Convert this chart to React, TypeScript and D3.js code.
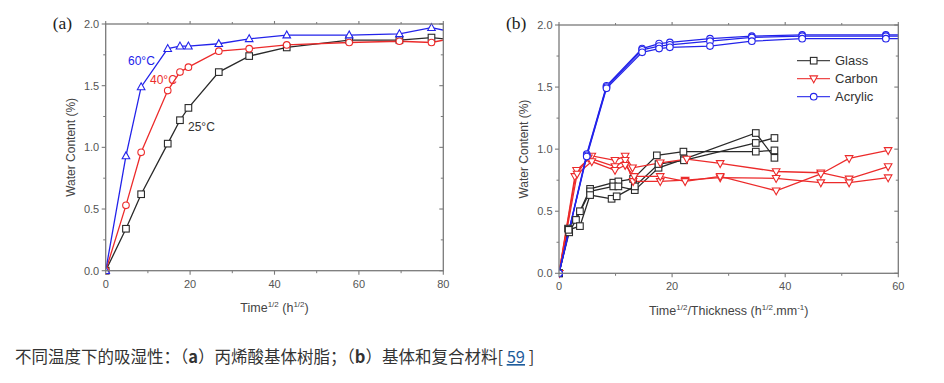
import React from "react";
import * as d3 from "d3";

// ---------- Panel (a) data ----------
const timeA = [0, 4.8, 8.4, 14.7, 17.6, 19.6, 26.8, 34.0, 42.9, 57.7, 69.6, 77.2, 83];
const temp60 = [0, 0.93, 1.49, 1.8, 1.82, 1.82, 1.84, 1.88, 1.91, 1.91, 1.92, 1.97, 1.93];
const temp40 = [0, 0.53, 0.96, 1.46, 1.61, 1.65, 1.78, 1.8, 1.83, 1.85, 1.86, 1.85, 1.89];
const temp25 = [0, 0.34, 0.62, 1.03, 1.22, 1.32, 1.61, 1.74, 1.81, 1.87, 1.87, 1.89, 1.87];
const seriesLabelsA = ["60°C", "40°C", "25°C"];

// ---------- Panel (b) data ----------
const acrylicX = [0, 4.9, 8.4, 14.7, 17.7, 19.6, 26.7, 34.1, 43.0, 57.8, 62];
const acrylic1 = [0, 0.96, 1.51, 1.81, 1.85, 1.86, 1.89, 1.91, 1.92, 1.92, 1.92];
const acrylic2 = [0, 0.95, 1.5, 1.8, 1.83, 1.84, 1.87, 1.9, 1.91, 1.91, 1.91];
const acrylic3 = [0, 0.94, 1.49, 1.78, 1.81, 1.82, 1.83, 1.87, 1.89, 1.89, 1.89];

const glassX1 = [0, 1.6, 3.7, 5.5, 9.6, 10.5, 13.1, 17.3, 22.0, 34.8, 38.1];
const glassY1 = [0, 0.36, 0.5, 0.68, 0.73, 0.74, 0.76, 0.95, 0.98, 0.98, 0.99];
const glassX2 = [0, 1.8, 3.0, 5.5, 9.6, 10.5, 13.4, 17.6, 22.1, 34.8, 38.1];
const glassY2 = [0, 0.33, 0.43, 0.66, 0.7, 0.7, 0.67, 0.85, 0.92, 1.13, 0.93];
const glassX3 = [0, 1.7, 3.7, 5.5, 9.3, 10.2, 13.4, 17.6, 22.1, 34.8, 38.1];
const glassY3 = [0, 0.35, 0.38, 0.63, 0.6, 0.62, 0.7, 0.88, 0.91, 1.05, 1.09];

const carbonX1 = [0, 3.1, 5.8, 9.9, 11.7, 13.0, 17.9, 22.6, 28.5, 38.4, 46.3, 51.3, 58.2];
const carbonY1 = [0, 0.83, 0.945, 0.91, 0.945, 0.85, 0.89, 0.92, 0.885, 0.82, 0.81, 0.76, 0.86];
const carbonX2 = [0, 2.8, 5.2, 9.9, 11.7, 13.1, 17.9, 22.3, 28.5, 38.4, 46.3, 51.3, 58.2];
const carbonY2 = [0, 0.78, 0.93, 0.86, 0.91, 0.74, 0.74, 0.75, 0.77, 0.765, 0.73, 0.73, 0.77];
const carbonX3 = [0, 3.2, 5.8, 9.9, 11.7, 13.3, 17.9, 22.3, 28.5, 38.4, 46.3, 51.3, 58.2];
const carbonY3 = [0, 0.8, 0.9, 0.83, 0.87, 0.78, 0.78, 0.74, 0.78, 0.665, 0.8, 0.925, 0.99];

const legendB = ["Glass", "Carbon", "Acrylic"];

const yTicks = [0, 0.5, 1.0, 1.5, 2.0];
const xTicksA = [0, 20, 40, 60, 80];
const xTicksB = [0, 20, 40, 60];

const caption = "不同温度下的吸湿性：（";

const BLUE = "#2323ea";
const RED = "#ec2b2b";
const BLACK = "#2a2a2a";
const AXIS = "#7a7a7a";
const LABEL = "#555";
const SANS = "'Liberation Sans', Arial, sans-serif";

type Series = { xs: number[]; ys: number[]; color: string; marker: string };

function Marker({ type, x, y, color }: { type: string; x: number; y: number; color: string }) {
  const s = 3.3;
  if (type === "square")
    return <rect x={x - s} y={y - s} width={2 * s} height={2 * s} fill="#fff" stroke={color} strokeWidth={1.1} />;
  if (type === "circle") return <circle cx={x} cy={y} r={s} fill="#fff" stroke={color} strokeWidth={1.1} />;
  if (type === "up") {
    const pts = [[x, y - s - 0.8], [x - s - 0.5, y + s - 0.5], [x + s + 0.5, y + s - 0.5]];
    return <polygon points={pts.map((p) => p.join(",")).join(" ")} fill="#fff" stroke={color} strokeWidth={1.1} />;
  }
  const pts = [[x, y + s + 0.8], [x - s - 0.5, y - s + 0.5], [x + s + 0.5, y - s + 0.5]];
  return <polygon points={pts.map((p) => p.join(",")).join(" ")} fill="#fff" stroke={color} strokeWidth={1.1} />;
}

function Panel({
  id, left, right, top, bottom, xMax, xTicks, series, letter,
}: {
  id: string; left: number; right: number; top: number; bottom: number; xMax: number; xTicks: number[];
  series: Series[]; letter: string;
}) {
  const x = d3.scaleLinear().domain([0, xMax]).range([left, right]);
  const y = d3.scaleLinear().domain([0, 2]).range([bottom, top]);
  const line = d3.line<[number, number]>().x((d) => x(d[0])).y((d) => y(d[1]));
  const step = xTicks[1] - xTicks[0];
  const minorX = d3.range(step / 2, xMax, step);
  const minorY = d3.range(0.25, 2, 0.5);
  return (
    <g>
      <defs>
        <clipPath id={"clip" + id}>
          <rect x={left} y={top - 6} width={right - left} height={bottom - top + 12} />
        </clipPath>
      </defs>
      <text x={left - 53} y={29} fontFamily="'Liberation Serif', 'DejaVu Serif', serif" fontSize={17.5} fill="#222">
        {letter}
      </text>
      <g clipPath={`url(#clip${id})`}>
        {series.map((s, i) => (
          <path key={i} d={line(s.xs.map((v, j) => [v, s.ys[j]]) as [number, number][]) || ""} fill="none" stroke={s.color} strokeWidth={1.3} />
        ))}
        {series.map((s, i) =>
          s.xs.map((v, j) => <Marker key={i + "-" + j} type={s.marker} x={x(v)} y={y(s.ys[j])} color={s.color} />)
        )}
      </g>
      <rect x={left} y={top} width={right - left} height={bottom - top} fill="none" stroke={AXIS} strokeWidth={1.3} />
      {xTicks.map((t) => (
        <g key={"xt" + t}>
          <line x1={x(t)} x2={x(t)} y1={bottom} y2={bottom + 4} stroke={AXIS} strokeWidth={1.1} />
          <line x1={x(t)} x2={x(t)} y1={top} y2={top - 3} stroke={AXIS} strokeWidth={1.1} />
          <text x={x(t)} y={bottom + 17} textAnchor="middle" fontFamily={SANS} fontSize={11} fill={LABEL}>
            {t}
          </text>
        </g>
      ))}
      {minorX.map((t) => (
        <g key={"xm" + t}>
          <line x1={x(t)} x2={x(t)} y1={bottom} y2={bottom + 2.5} stroke={AXIS} strokeWidth={1} />
          <line x1={x(t)} x2={x(t)} y1={top} y2={top - 2} stroke={AXIS} strokeWidth={1} />
        </g>
      ))}
      {yTicks.map((t) => (
        <g key={"yt" + t}>
          <line x1={left} x2={left - 4} y1={y(t)} y2={y(t)} stroke={AXIS} strokeWidth={1.1} />
          <line x1={right} x2={right - 4} y1={y(t)} y2={y(t)} stroke={AXIS} strokeWidth={1.1} />
          <text x={left - 6.5} y={y(t) + 4} textAnchor="end" fontFamily={SANS} fontSize={11} fill={LABEL}>
            {t.toFixed(1)}
          </text>
        </g>
      ))}
      {minorY.map((t) => (
        <g key={"ym" + t}>
          <line x1={left} x2={left - 2.5} y1={y(t)} y2={y(t)} stroke={AXIS} strokeWidth={1} />
          <line x1={right} x2={right - 2.5} y1={y(t)} y2={y(t)} stroke={AXIS} strokeWidth={1} />
        </g>
      ))}
      <text
        transform={`translate(${left - 31},${(top + bottom) / 2}) rotate(-90)`}
        textAnchor="middle"
        fontFamily={SANS}
        fontSize={12}
        fill="#444"
      >
        Water Content (%)
      </text>
    </g>
  );
}

export default function App() {
  const seriesA: Series[] = [
    { xs: timeA, ys: temp25, color: BLACK, marker: "square" },
    { xs: timeA, ys: temp40, color: RED, marker: "circle" },
    { xs: timeA, ys: temp60, color: BLUE, marker: "up" },
  ];
  const seriesB: Series[] = [
    { xs: glassX1, ys: glassY1, color: BLACK, marker: "square" },
    { xs: glassX2, ys: glassY2, color: BLACK, marker: "square" },
    { xs: glassX3, ys: glassY3, color: BLACK, marker: "square" },
    { xs: carbonX1, ys: carbonY1, color: RED, marker: "down" },
    { xs: carbonX2, ys: carbonY2, color: RED, marker: "down" },
    { xs: carbonX3, ys: carbonY3, color: RED, marker: "down" },
    { xs: acrylicX, ys: acrylic1, color: BLUE, marker: "circle" },
    { xs: acrylicX, ys: acrylic2, color: BLUE, marker: "circle" },
    { xs: acrylicX, ys: acrylic3, color: BLUE, marker: "circle" },
  ];
  const legendColors = [BLACK, RED, BLUE];
  const legendMarkers = ["square", "down", "circle"];
  return (
    <svg
      width={944}
      height={383}
      style={{ position: "absolute", left: 0, top: 0, background: "#fff" }}
    >
      <rect width={944} height={383} fill="#fff" />
      <Panel id="a" left={105.7} right={443.3} top={24} bottom={270.7} xMax={80} xTicks={xTicksA} series={seriesA} letter="(a)" />
      <Panel id="b" left={559} right={898.3} top={25} bottom={273.3} xMax={60} xTicks={xTicksB} series={seriesB} letter="(b)" />

      {/* panel a series labels */}
      <text x={128} y={65} fontFamily={SANS} fontSize={12} fill={BLUE}>{seriesLabelsA[0]}</text>
      <text x={150} y={84} fontFamily={SANS} fontSize={12} fill={RED}>{seriesLabelsA[1]}</text>
      <text x={188} y={131} fontFamily={SANS} fontSize={12} fill="#333">{seriesLabelsA[2]}</text>

      {/* x axis titles */}
      <text x={274.5} y={312} textAnchor="middle" fontFamily={SANS} fontSize={12.5} fill="#444">
        Time<tspan fontSize={8} dy={-5}>1/2</tspan>
        <tspan dy={5}> (h</tspan>
        <tspan fontSize={8} dy={-5}>1/2</tspan>
        <tspan dy={5}>)</tspan>
      </text>
      <text x={728.7} y={314.5} textAnchor="middle" fontFamily={SANS} fontSize={12.5} fill="#444">
        Time<tspan fontSize={8} dy={-5}>1/2</tspan>
        <tspan dy={5}>/Thickness (h</tspan>
        <tspan fontSize={8} dy={-5}>1/2</tspan>
        <tspan dy={5}>.mm</tspan>
        <tspan fontSize={8} dy={-5}>-1</tspan>
        <tspan dy={5}>)</tspan>
      </text>

      {/* legend panel b */}
      {legendB.map((name, i) => {
        const ly = 60.7 + i * 18;
        return (
          <g key={name}>
            <line x1={797} x2={830} y1={ly} y2={ly} stroke={legendColors[i]} strokeWidth={1.3} opacity={0.85} />
            <Marker type={legendMarkers[i]} x={813.7} y={ly} color={legendColors[i]} />
            <text x={835} y={ly + 4.5} fontFamily={SANS} fontSize={13} fill="#333">{name}</text>
          </g>
        );
      })}

      {/* caption */}
      <text x={15} y={363} fontFamily="'Noto Sans CJK SC', sans-serif" fontSize={16.5} fill="#333">
        {caption}
        <tspan fontWeight="bold">a</tspan>
        <tspan>）丙烯酸基体树脂；（</tspan>
        <tspan fontWeight="bold">b</tspan>
        <tspan>）基体和复合材料[ </tspan>
        <tspan fill="#1f5d9c" textDecoration="underline">59</tspan>
        <tspan> ]</tspan>
      </text>
    </svg>
  );
}
